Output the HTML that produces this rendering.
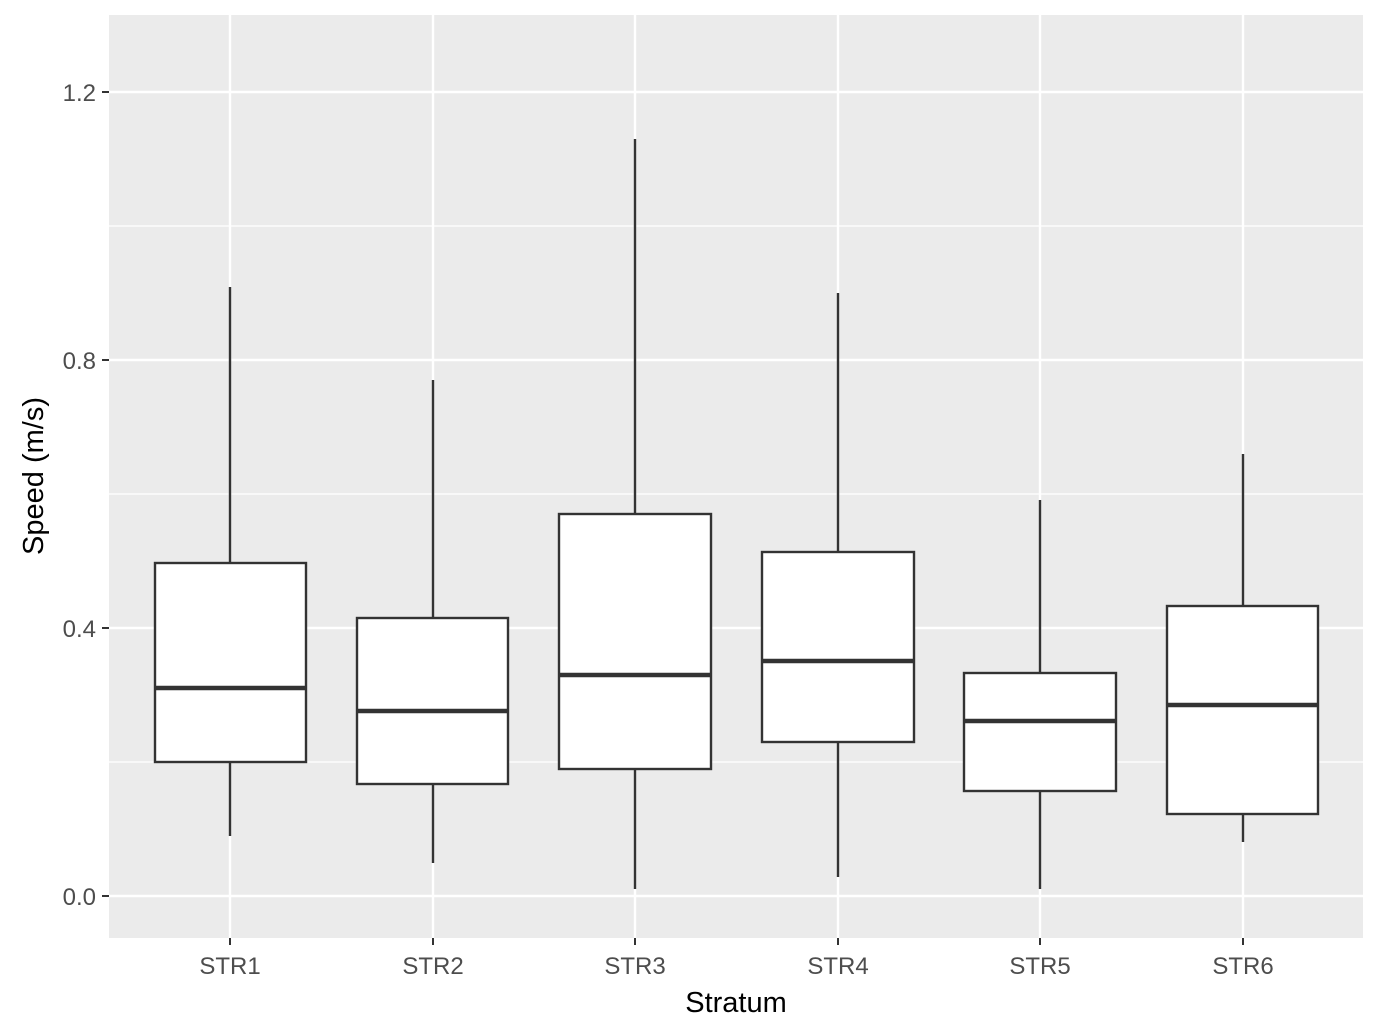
<!DOCTYPE html>
<html><head><style>body{margin:0;background:#fff}svg{display:block}</style></head><body>
<svg width="1381" height="1036" xmlns="http://www.w3.org/2000/svg" font-family="Liberation Sans, sans-serif">
<rect x="109" y="15" width="1254" height="923" fill="#ebebeb"/>
<g stroke="#fff" stroke-width="1.2">
<line x1="109" x2="1363" y1="762" y2="762"/><line x1="109" x2="1363" y1="494" y2="494"/><line x1="109" x2="1363" y1="226" y2="226"/>
</g>
<g stroke="#fff" stroke-width="2.4">
<line x1="109" x2="1363" y1="896" y2="896"/><line x1="109" x2="1363" y1="628" y2="628"/><line x1="109" x2="1363" y1="360" y2="360"/><line x1="109" x2="1363" y1="92" y2="92"/>
<line y1="15" y2="938" x1="230" x2="230"/><line y1="15" y2="938" x1="433" x2="433"/><line y1="15" y2="938" x1="635" x2="635"/><line y1="15" y2="938" x1="838" x2="838"/><line y1="15" y2="938" x1="1040" x2="1040"/><line y1="15" y2="938" x1="1243" x2="1243"/>
</g>
<g stroke="#333" stroke-width="2.4" fill="#fff">
<line x1="230" x2="230" y1="287" y2="836"/><rect x="155" y="563" width="151" height="199"/><line x1="155" x2="306" y1="688" y2="688" stroke-width="4.5"/>
<line x1="433" x2="433" y1="380" y2="863"/><rect x="357" y="618" width="151" height="166"/><line x1="357" x2="508" y1="711" y2="711" stroke-width="4.5"/>
<line x1="635" x2="635" y1="139" y2="889"/><rect x="559" y="514" width="152" height="255"/><line x1="559" x2="711" y1="675" y2="675" stroke-width="4.5"/>
<line x1="838" x2="838" y1="293" y2="877"/><rect x="762" y="552" width="152" height="190"/><line x1="762" x2="914" y1="661" y2="661" stroke-width="4.5"/>
<line x1="1040" x2="1040" y1="500" y2="889"/><rect x="964" y="673" width="152" height="118"/><line x1="964" x2="1116" y1="721" y2="721" stroke-width="4.5"/>
<line x1="1243" x2="1243" y1="454" y2="842"/><rect x="1167" y="606" width="151" height="208"/><line x1="1167" x2="1318" y1="705" y2="705" stroke-width="4.5"/>
</g>
<g stroke="#333" stroke-width="2">
<line x1="102" x2="109" y1="896" y2="896"/><line x1="102" x2="109" y1="628" y2="628"/><line x1="102" x2="109" y1="360" y2="360"/><line x1="102" x2="109" y1="92" y2="92"/>
<line y1="938" y2="945" x1="230" x2="230"/><line y1="938" y2="945" x1="433" x2="433"/><line y1="938" y2="945" x1="635" x2="635"/><line y1="938" y2="945" x1="838" x2="838"/><line y1="938" y2="945" x1="1040" x2="1040"/><line y1="938" y2="945" x1="1243" x2="1243"/>
</g>
<g fill="#4d4d4d" font-size="24" text-anchor="end">
<text x="96" y="905">0.0</text><text x="96" y="637">0.4</text><text x="96" y="369">0.8</text><text x="96" y="101">1.2</text>
</g>
<g fill="#4d4d4d" font-size="24" text-anchor="middle">
<text x="230" y="974">STR1</text><text x="433" y="974">STR2</text><text x="635" y="974">STR3</text><text x="838" y="974">STR4</text><text x="1040" y="974">STR5</text><text x="1243" y="974">STR6</text>
</g>
<text x="736" y="1012" font-size="29" text-anchor="middle">Stratum</text>
<text transform="translate(43,476) rotate(-90)" font-size="29" text-anchor="middle">Speed (m/s)</text>
</svg>
</body></html>
